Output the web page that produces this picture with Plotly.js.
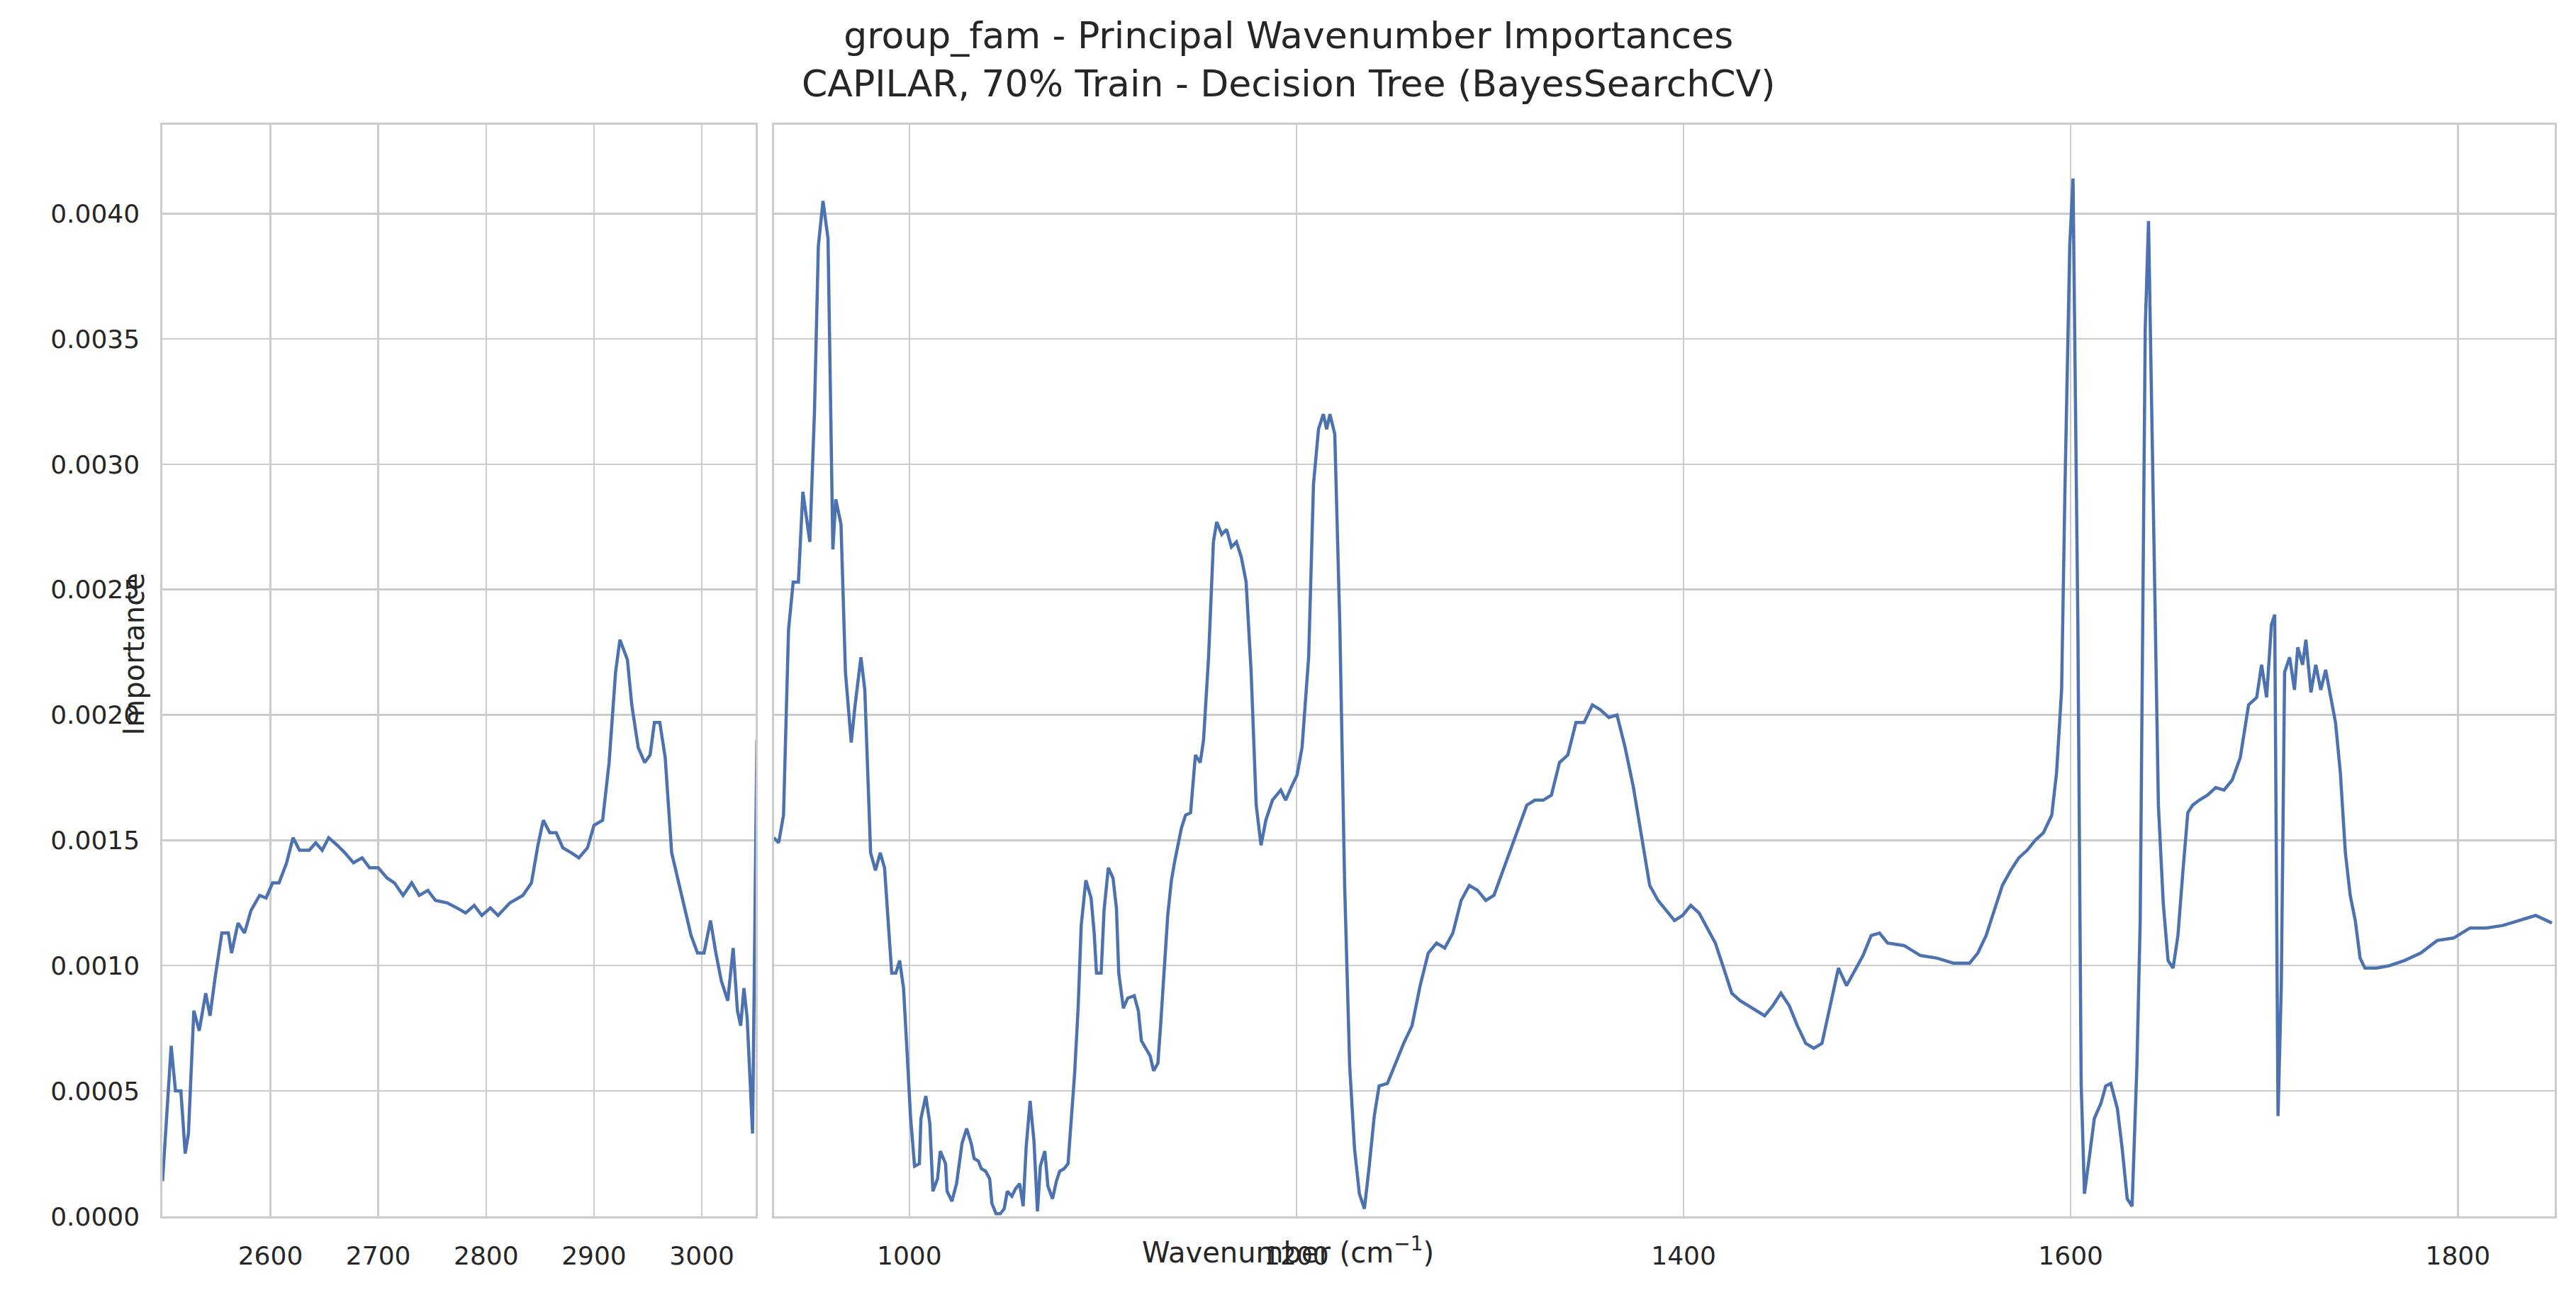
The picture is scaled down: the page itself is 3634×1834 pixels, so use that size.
<!DOCTYPE html>
<html><head><meta charset="utf-8">
<script src="https://cdn.plot.ly/plotly-3.0.1.min.js"></script>
<style>html,body{margin:0;padding:0;background:#fff}</style>
</head><body><div id="chart" style="width:3634px;height:1834px"></div>
<script>
const leftWavenumber = [2500,2508,2512,2517,2521,2524,2529,2534,2540,2544,2549,2555,2561,2564,2570,2576,2582,2590,2596,2602,2608,2615,2621,2627,2636,2642,2648,2654,2662,2669,2677,2685,2692,2700,2708,2715,2723,2731,2738,2746,2753,2764,2773,2781,2789,2796,2804,2811,2822,2834,2842,2848,2853,2859,2865,2871,2879,2886,2894,2900,2908,2914,2920,2924,2931,2935,2941,2947,2952,2956,2961,2966,2972,2978,2984,2990,2996,3002,3008,3013,3018,3024,3029,3033,3036,3039,3042,3047,3051];
const leftImportance = [0.00014,0.00068,0.0005,0.0005,0.00025,0.00033,0.00082,0.00074,0.00089,0.0008,0.00096,0.00113,0.00113,0.00105,0.00117,0.00113,0.00122,0.00128,0.00127,0.00133,0.00133,0.00141,0.00151,0.00146,0.00146,0.00149,0.00146,0.00151,0.00148,0.00145,0.00141,0.00143,0.00139,0.00139,0.00135,0.00133,0.00128,0.00133,0.00128,0.0013,0.00126,0.00125,0.00123,0.00121,0.00124,0.0012,0.00123,0.0012,0.00125,0.00128,0.00133,0.00148,0.00158,0.00153,0.00153,0.00147,0.00145,0.00143,0.00147,0.00156,0.00158,0.00181,0.00217,0.0023,0.00222,0.00204,0.00187,0.00181,0.00184,0.00197,0.00197,0.00183,0.00145,0.00134,0.00122,0.00112,0.00105,0.00105,0.00118,0.00105,0.00094,0.00086,0.00107,0.00082,0.00076,0.00091,0.00079,0.00033,0.0019];
const rightWavenumber = [930,932.5,935,937.6,940,942.7,945,948.6,951,953,955.4,958,960.5,962,964.7,967,970,972,975,977,980,982.5,985,987.2,990.9,993,995,997,998.8,1000.6,1002.7,1005.2,1006,1008.5,1010.6,1012.2,1014.6,1016,1018.7,1019.5,1022,1024.4,1027.2,1029.6,1032,1033.5,1035.7,1037.2,1039.4,1041.5,1042.7,1044.8,1047,1049,1050.6,1053,1054.9,1057,1058.8,1060.4,1062.4,1064.4,1066.2,1067.7,1070,1071.6,1074,1076,1077.7,1080,1082,1083.5,1085.4,1087.2,1088.8,1091.2,1093.9,1095.5,1096.7,1099.1,1100.6,1102.8,1105.2,1107,1108.2,1110.6,1112.8,1116.2,1118.3,1119.9,1122,1124.4,1126.2,1128.4,1129.9,1132.3,1133.5,1135.4,1137.2,1140.6,1142.7,1145.3,1147.8,1150.3,1152,1154.6,1157.1,1158.8,1161.4,1163.9,1166.4,1169,1171.5,1174,1176.6,1179.2,1181.7,1184.2,1187.6,1191.9,1194.4,1197.8,1200.3,1202.9,1206.3,1208.8,1211.4,1213.9,1215.6,1217.3,1219.8,1222.4,1224.9,1227.5,1230,1232.5,1235.1,1237.6,1240.2,1242.7,1247,1251.2,1255.4,1259.7,1263.9,1268.1,1272.4,1276.6,1280.8,1285.1,1289.3,1293.6,1297.8,1302,1306.3,1310.5,1314.7,1319,1323.2,1327.5,1331.7,1335.9,1340.2,1344.4,1348.6,1352.9,1357.1,1361.4,1365.6,1369.8,1374.1,1378.3,1382.5,1386.8,1391,1395.3,1399.5,1403.7,1408,1412.2,1416.4,1420.7,1424.9,1429.2,1433.4,1437.6,1441.9,1446.1,1450.3,1454.6,1458.8,1463.1,1467.3,1471.5,1475.8,1480,1484.2,1488.5,1492.7,1496.9,1501.2,1505.4,1513.9,1522.4,1530.8,1539.3,1547.8,1552,1556.3,1560.5,1564.7,1569,1573.2,1577.5,1581.7,1585.9,1590.2,1592.7,1595.3,1597,1599.5,1601.2,1603.7,1605.4,1607.1,1609.7,1612.2,1615.6,1618.1,1620.7,1624.1,1626.6,1629.2,1631.7,1634.2,1635.9,1638.5,1640.2,1642.7,1645.3,1647.8,1650.3,1652.9,1655.4,1658,1660.5,1663,1666.4,1670.7,1674.9,1679.2,1683.4,1687.6,1691.9,1696.1,1698.6,1701.2,1703.7,1705.4,1707.1,1708.8,1710.5,1713.1,1715.6,1717.3,1719.8,1721.5,1724.1,1726.6,1729.2,1731.7,1734.2,1736.8,1739.3,1741.9,1744.4,1747,1749.5,1752,1758,1764.8,1772.4,1780.8,1789.3,1797.8,1806.3,1814.7,1823.2,1831.7,1840.2,1848.6];
const rightImportance = [0.00151,0.00149,0.0016,0.00234,0.00253,0.00253,0.00289,0.00269,0.00321,0.00387,0.00405,0.0039,0.00266,0.00286,0.00276,0.00217,0.00189,0.00204,0.00223,0.0021,0.00145,0.00138,0.00145,0.00139,0.00097,0.00097,0.00102,0.00091,0.00066,0.0004,0.0002,0.00021,0.00039,0.00048,0.00037,0.0001,0.00015,0.00026,0.00021,0.0001,0.00006,0.00013,0.00029,0.00035,0.00029,0.00023,0.00022,0.00019,0.00018,0.00015,0.00005,0.00001,0.00001,0.00003,0.0001,0.00008,0.00011,0.00013,0.00004,0.00028,0.00046,0.0003,0.00002,0.0002,0.00026,0.00012,0.00007,0.00014,0.00018,0.00019,0.00021,0.00037,0.00057,0.00083,0.00116,0.00134,0.00127,0.00113,0.00097,0.00097,0.00122,0.00139,0.00135,0.00123,0.00097,0.00083,0.00087,0.00088,0.00082,0.0007,0.00067,0.00064,0.00058,0.00061,0.00077,0.00106,0.0012,0.00134,0.00142,0.00155,0.0016,0.00161,0.00184,0.00181,0.0019,0.00223,0.00269,0.00277,0.00272,0.00274,0.00267,0.00269,0.00263,0.00253,0.00217,0.00164,0.00148,0.00158,0.00166,0.0017,0.00166,0.00172,0.00176,0.00187,0.00223,0.00292,0.00314,0.0032,0.00314,0.0032,0.00312,0.00236,0.00132,0.0006,0.00027,0.00009,0.00003,0.0002,0.0004,0.00052,0.00053,0.00061,0.00069,0.00076,0.00092,0.00105,0.00109,0.00107,0.00113,0.00126,0.00132,0.0013,0.00126,0.00128,0.00137,0.00146,0.00155,0.00164,0.00166,0.00166,0.00168,0.00181,0.00184,0.00197,0.00197,0.00204,0.00202,0.00199,0.002,0.00187,0.00171,0.00151,0.00132,0.00126,0.00122,0.00118,0.0012,0.00124,0.00121,0.00115,0.00109,0.00099,0.00089,0.00086,0.00084,0.00082,0.0008,0.00084,0.00089,0.00084,0.00076,0.00069,0.00067,0.00069,0.00084,0.00099,0.00092,0.00098,0.00104,0.00112,0.00113,0.00109,0.00108,0.00104,0.00103,0.00101,0.00101,0.00105,0.00112,0.00122,0.00132,0.00138,0.00143,0.00146,0.0015,0.00153,0.0016,0.00177,0.0021,0.00289,0.00387,0.00414,0.00236,0.00053,0.00009,0.00024,0.00039,0.00045,0.00052,0.00053,0.00043,0.00027,0.00007,0.00004,0.0006,0.00118,0.00354,0.00397,0.00289,0.00164,0.00125,0.00102,0.00099,0.00112,0.00138,0.00161,0.00164,0.00166,0.00168,0.00171,0.0017,0.00174,0.00183,0.00204,0.00207,0.0022,0.00207,0.00236,0.0024,0.0004,0.00092,0.00217,0.00223,0.0021,0.00227,0.0022,0.0023,0.00209,0.0022,0.0021,0.00218,0.00207,0.00197,0.00177,0.00145,0.00128,0.00118,0.00103,0.00099,0.00099,0.001,0.00102,0.00105,0.0011,0.00111,0.00115,0.00115,0.00116,0.00118,0.0012,0.00117];
const leftTicks = [2600,2700,2800,2900,3000];
const rightTicks = [1000,1200,1400,1600,1800];

const lineStyle = {color:'#4c72b0', width:4.5};
const grid = '#cccccc';
const tickFont = {family:'DejaVu Sans', size:36, color:'#262626'};
const yDom = [0.0644, 0.904];
const xBase = {showgrid:true, gridcolor:grid, gridwidth:2.5, showline:true, linecolor:grid, linewidth:3, mirror:true, zeroline:false, ticks:'', tickfont:tickFont, tickmode:'array', ticklabelstandoff:22};
const yBase = {showgrid:true, gridcolor:grid, gridwidth:2.5, showline:true, linecolor:grid, linewidth:3, mirror:true, zeroline:false, ticks:'', tickfont:tickFont, range:[0,0.004354], dtick:0.0005, tick0:0, tickformat:'.4f', domain:yDom, ticklabelstandoff:22};

const data = [
  {x:leftWavenumber, y:leftImportance, type:'scatter', mode:'lines', line:lineStyle, xaxis:'x', yaxis:'y', showlegend:false},
  {x:rightWavenumber, y:rightImportance, type:'scatter', mode:'lines', line:lineStyle, xaxis:'x2', yaxis:'y2', showlegend:false}
];
const layout = {
  width:3634, height:1834, paper_bgcolor:'#fff', plot_bgcolor:'#fff',
  margin:{l:0,r:0,t:0,b:0},
  font:{family:'DejaVu Sans', color:'#262626'},
  xaxis:Object.assign({}, xBase, {domain:[0.0631,0.2934], range:[2500,3050], tickvals:leftTicks, anchor:'y'}),
  yaxis:Object.assign({}, yBase, {anchor:'x'}),
  xaxis2:Object.assign({}, xBase, {domain:[0.3004,0.9917], range:[930,1850], tickvals:rightTicks, anchor:'y2'}),
  yaxis2:Object.assign({}, yBase, {anchor:'x2', showticklabels:false}),
  annotations:[
    {text:'group_fam - Principal Wavenumber Importances<br>CAPILAR, 70% Train - Decision Tree (BayesSearchCV)', xref:'paper', yref:'paper', x:0.5, y:0.99, xanchor:'center', yanchor:'top', showarrow:false, font:{size:52, color:'#262626'}},
    {text:'Wavenumber (cm<sup>−1</sup>)', xref:'paper', yref:'paper', x:0.5, y:0.038, xanchor:'center', yanchor:'middle', showarrow:false, font:{size:40, color:'#262626'}},
    {text:'Importance', xref:'paper', yref:'paper', x:0.052, y:0.497, xanchor:'center', yanchor:'middle', textangle:-90, showarrow:false, font:{size:40, color:'#262626'}}
  ]
};
Plotly.newPlot('chart', data, layout, {displayModeBar:false, staticPlot:true});
</script></body></html>
